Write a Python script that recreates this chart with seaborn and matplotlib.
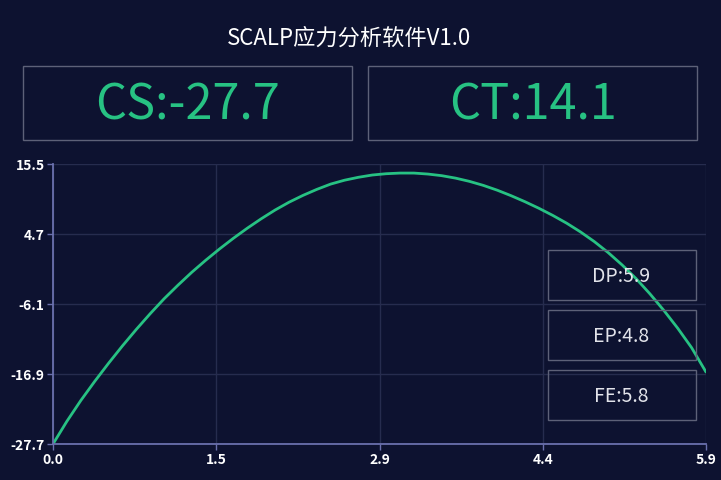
import matplotlib
matplotlib.use("Agg")
import matplotlib.pyplot as plt
import matplotlib.patches as patches
import seaborn as sns
import pandas as pd

# values
x_vals = [0.000, 0.125, 0.250, 0.375, 0.500, 0.625, 0.750, 0.875, 1.000, 1.125,
          1.250, 1.375, 1.500, 1.625, 1.750, 1.875, 2.000, 2.125, 2.250, 2.375,
          2.500, 2.625, 2.750, 2.875, 3.000, 3.125, 3.250, 3.375, 3.500, 3.625,
          3.750, 3.875, 4.000, 4.125, 4.250, 4.375, 4.500, 4.625, 4.750, 4.875,
          5.000, 5.125, 5.250, 5.375, 5.500, 5.625, 5.750, 5.880]
y_vals = [-27.7, -24.2, -21.0, -18.05, -15.25, -12.57, -10.02, -7.6, -5.3, -3.2,
          -1.2, 0.65, 2.4, 4.05, 5.6, 7.05, 8.4, 9.6, 10.65, 11.58,
          12.4, 13.0, 13.45, 13.8, 14.0, 14.1, 14.1, 13.95, 13.7, 13.32,
          12.82, 12.2, 11.46, 10.61, 9.68, 8.67, 7.57, 6.37, 5.02, 3.52,
          1.82, -0.08, -2.18, -4.53, -7.08, -9.83, -12.83, -16.6]
title = "SCALP应力分析软件V1.0"
cs_value = -27.7
ct_value = 14.1
side_labels = ["DP:5.9", "EP:4.8", "FE:5.8"]
x_max = 5.88
y_min, y_max = -27.7, 15.5

BG = "#0d1230"
GREEN = "#27c283"
BORDER = "#5d6178"

df = pd.DataFrame({"x": x_vals, "y": y_vals})

sns.set_theme(style="dark")
plt.rcParams["font.family"] = ["Noto Sans CJK SC", "DejaVu Sans"]

W, H = 721, 481
fig = plt.figure(figsize=(W / 100, H / 100), dpi=100, facecolor=BG)


def px_box(x0, y0, x1, y1):
    # pixel box (top-left origin) to figure fraction rectangle
    return (x0 / W, 1 - y1 / H, (x1 - x0) / W, (y1 - y0) / H)


ax = fig.add_axes([53 / W, 1 - 445 / H, (706 - 53) / W, (445 - 165) / H])
ax.set_facecolor(BG)
sns.lineplot(data=df, x="x", y="y", ax=ax, color=GREEN, linewidth=2.0)

ax.set_xlim(0, x_max)
ax.set_ylim(y_min, y_max)
xt = [x_max * i / 4 for i in range(5)]
yt = [y_min + (y_max - y_min) * i / 4 for i in range(5)]
ax.set_xticks(xt)
ax.set_xticklabels([f"{v:.1f}" for v in xt])
ax.set_yticks(yt)
ax.set_yticklabels([f"{v:.1f}" for v in yt])
ax.set_xlabel("")
ax.set_ylabel("")
ax.grid(True, color="#262c4e", linewidth=1)
for s in ["top", "right"]:
    ax.spines[s].set_visible(False)
for s in ["left", "bottom"]:
    ax.spines[s].set_visible(True)
    ax.spines[s].set_color("#6a70ad")
    ax.spines[s].set_linewidth(1.3)
ax.tick_params(axis="both", colors="#6a70ad", length=4, width=1,
               labelcolor="white", labelsize=10, pad=2, bottom=True, left=True)
for lab in ax.get_xticklabels() + ax.get_yticklabels():
    lab.set_fontweight("bold")

fig.text(349 / W, 1 - 38 / H, title, color="white", fontsize=16,
         ha="center", va="center")

# big value boxes
for (x0, x1), txt in [((23, 352), f"CS:{cs_value}"), ((368, 697), f"CT:{ct_value}")]:
    r = px_box(x0, 67, x1, 141)
    fig.patches.append(patches.Rectangle(r[:2], *r[2:], transform=fig.transFigure,
                                         fill=False, edgecolor=BORDER, linewidth=1))
    fig.text((x0 + x1) / 2 / W, 1 - 106 / H, txt, color=GREEN, fontsize=35,
             ha="center", va="center")

# small boxes on the right
for i, txt in enumerate(side_labels):
    y0 = 251 + i * 60
    y1 = y0 + 50
    r = px_box(548, y0, 696, y1)
    fig.patches.append(patches.Rectangle(r[:2], *r[2:], transform=fig.transFigure,
                                         fill=False, edgecolor=BORDER, linewidth=1))
    fig.text(621 / W, 1 - (y0 + 26) / H, txt, color="#e2e3ea", fontsize=14,
             ha="center", va="center")

fig.savefig("out.png", dpi=100, facecolor=BG)
